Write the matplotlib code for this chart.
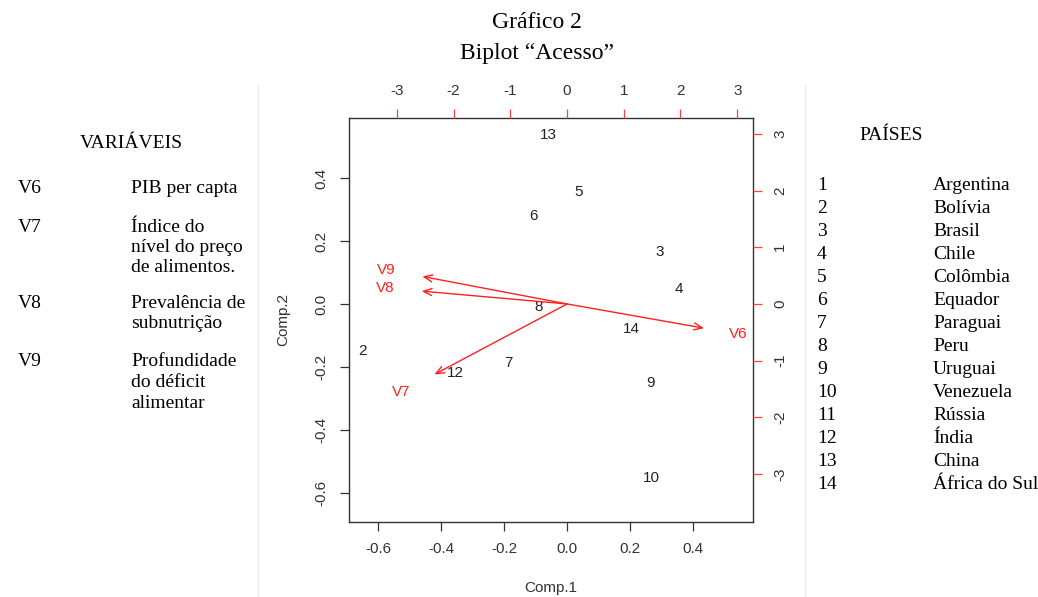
import numpy as np
import matplotlib
matplotlib.use('Agg')
import matplotlib.pyplot as plt

# escores dos países (Comp.1, Comp.2)
paises_id = ['13', '5', '6', '3', '4', '8', '14', '2', '7', '12', '9', '10']
comp1 = [-0.059, 0.036, -0.107, 0.294, 0.357, -0.091, 0.204, -0.651, -0.187, -0.356, 0.264, 0.269]
comp2 = [0.538, 0.355, 0.281, 0.165, 0.046, -0.010, -0.079, -0.151, -0.187, -0.220, -0.251, -0.554]

# cargas das variáveis (eixos de cima/direita)
variaveis = ['V6', 'V7', 'V8', 'V9']
carga1 = [2.416, -2.34, -2.563, -2.552]
carga2 = [-0.427, -1.243, 0.226, 0.485]

lim_comp = (-0.693, 0.591)
escala = 5.547
ticks_comp = [-0.6, -0.4, -0.2, 0.0, 0.2, 0.4]
ticks_carga = [-3, -2, -1, 0, 1, 2, 3]

var_cod = ['V6', 'V7', 'V8', 'V9']
var_desc = [['PIB per capta'],
            ['Índice do', 'nível do preço', 'de alimentos.'],
            ['Prevalência de', 'subnutrição'],
            ['Profundidade', 'do déficit', 'alimentar']]

paises_num = [str(i) for i in range(1, 15)]
paises_nome = ['Argentina', 'Bolívia', 'Brasil', 'Chile', 'Colômbia', 'Equador', 'Paraguai',
               'Peru', 'Uruguai', 'Venezuela', 'Rússia', 'Índia', 'China', 'África do Sul']

W, H = 1038, 597
fig = plt.figure(figsize=(W / 100, H / 100), dpi=100)
plt.rcParams['font.family'] = 'Liberation Sans'
plt.rcParams['axes.unicode_minus'] = False
serif = 'Liberation Serif'
cinza = '#333333'

def fx(px):
    return px / W

def fy(py):
    return 1 - py / H

pos = [fx(349), fy(522), fx(753) - fx(349), fy(118) - fy(522)]
ax = fig.add_axes(pos)
ax.set_xlim(lim_comp)
ax.set_ylim(lim_comp)
ax.set_xticks(ticks_comp)
ax.set_yticks(ticks_comp)
ax.set_xticklabels(['%.1f' % t for t in ticks_comp])
ax.set_yticklabels(['%.1f' % t for t in ticks_comp], rotation=90, va='center')
ax.tick_params(axis='both', length=6.5, width=0.9, color=cinza, labelcolor=cinza, labelsize=11, pad=8)
for s in ax.spines.values():
    s.set_color(cinza)
    s.set_linewidth(1.0)
ax.set_xlabel('Comp.1', fontsize=11, color=cinza, labelpad=18)
ax.set_ylabel('Comp.2', fontsize=11, color=cinza, labelpad=18)

for lab, x, y in zip(paises_id, comp1, comp2):
    ax.text(x, y, lab, ha='center', va='center', fontsize=11, color='#222222')

ax2 = fig.add_axes(pos, frameon=False)
ax2.set_xlim(lim_comp[0] * escala, lim_comp[1] * escala)
ax2.set_ylim(lim_comp[0] * escala, lim_comp[1] * escala)
ax2.xaxis.tick_top()
ax2.yaxis.tick_right()
ax2.set_xticks(ticks_carga)
ax2.set_yticks(ticks_carga)
ax2.set_yticklabels([str(t) for t in ticks_carga], rotation=90, va='center')
ax2.tick_params(axis='both', length=6.5, width=0.9, color='#ff4040', labelcolor=cinza, labelsize=11, pad=8)

for v, a, b in zip(variaveis, carga1, carga2):
    ax2.annotate('', xy=(a, b), xytext=(0, 0),
                 arrowprops=dict(arrowstyle='->,head_length=0.6,head_width=0.25', color='#ff2020', lw=1.0,
                                 shrinkA=0, shrinkB=0))
    ax2.text(a * 1.25, b * 1.25, v, ha='center', va='center', fontsize=11, color='#ff2020')

# títulos
fig.text(fx(537), fy(22), 'Gráfico 2', ha='center', va='center', fontsize=17, family=serif)
fig.text(fx(537), fy(53), 'Biplot “Acesso”', ha='center', va='center', fontsize=17, family=serif)

# painel esquerdo
fig.text(fx(131), fy(143), 'VARIÁVEIS', ha='center', va='center', fontsize=14, family=serif)
y_bloco = [189, 227, 303, 362]
for cod, linhas, y in zip(var_cod, var_desc, y_bloco):
    fig.text(fx(18), fy(y), cod, ha='left', va='center', fontsize=14, family=serif)
    for i, ln in enumerate(linhas):
        fig.text(fx(131), fy(y + i * 20.5), ln, ha='left', va='center', fontsize=14, family=serif)

# painel direito
fig.text(fx(891), fy(136), 'PAÍSES', ha='center', va='center', fontsize=14, family=serif)
for i, (n, nome) in enumerate(zip(paises_num, paises_nome)):
    yy = 185.7 + i * 23.0
    fig.text(fx(817), fy(yy), n, ha='left', va='center', fontsize=14, family=serif)
    fig.text(fx(933), fy(yy), nome, ha='left', va='center', fontsize=14, family=serif)

# bordas claras da tabela
for xl in (258, 805):
    fig.add_artist(plt.Line2D([fx(xl), fx(xl)], [fy(85), fy(597)], color='#ededed', lw=1))

fig.savefig('out.png', dpi=100)
